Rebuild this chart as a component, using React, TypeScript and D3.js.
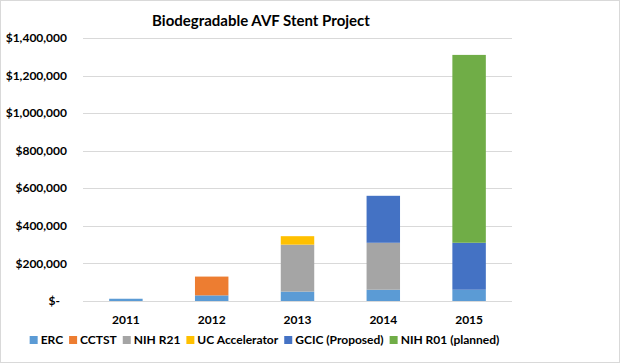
import React, { useEffect, useRef } from 'react';
import * as d3 from 'd3';

const years = ['2011', '2012', '2013', '2014', '2015'];
const seriesNames = ['ERC', 'CCTST', 'NIH R21', 'UC Accelerator', 'GCIC (Proposed)', 'NIH R01 (planned)'];
const seriesColors = ['#5B9BD5', '#ED7D31', '#A5A5A5', '#FFC000', '#4472C4', '#70AD47'];

const erc = [12000, 30000, 50000, 60000, 60000];
const cctst = [0, 100000, 0, 0, 0];
const nihR21 = [0, 0, 250000, 250000, 0];
const ucAccel = [0, 0, 45000, 0, 0];
const gcic = [0, 0, 0, 250000, 250000];
const nihR01 = [0, 0, 0, 0, 1000000];

const yTicks = [0, 200000, 400000, 600000, 800000, 1000000, 1200000, 1400000];

const App: React.FC = () => {
  const svgRef = useRef<SVGSVGElement>(null);

  useEffect(() => {
    document.body.style.margin = '0';
    if (!svgRef.current) return;

    const width = 620;
    const height = 363;
    const font = 'Lato, "Open Sans", sans-serif';

    const svg = d3.select(svgRef.current);
    svg.selectAll('*').remove();
    svg.style('font-family', font);

    svg.append('rect')
      .attr('x', 0.5).attr('y', 0.5)
      .attr('width', width - 1).attr('height', height - 1)
      .attr('fill', '#fff')
      .attr('stroke', '#d9d9d9');

    const plot = { left: 83, right: 512, top: 38, bottom: 301 };

    const x = d3.scaleBand<string>()
      .domain(years)
      .range([plot.left, plot.right])
      .paddingInner(0.61)
      .paddingOuter(0.305);

    const y = d3.scaleLinear()
      .domain([0, 1400000])
      .range([plot.bottom, plot.top]);

    // gridlines
    svg.append('g')
      .selectAll('line')
      .data(yTicks)
      .join('line')
      .attr('x1', plot.left)
      .attr('x2', plot.right)
      .attr('y1', d => Math.round(y(d)) + 0.5)
      .attr('y2', d => Math.round(y(d)) + 0.5)
      .attr('stroke', '#d9d9d9')
      .attr('stroke-width', 1);

    // stacked bars
    const table = years.map((yr, i) => ({
      year: yr,
      'ERC': erc[i],
      'CCTST': cctst[i],
      'NIH R21': nihR21[i],
      'UC Accelerator': ucAccel[i],
      'GCIC (Proposed)': gcic[i],
      'NIH R01 (planned)': nihR01[i]
    }));

    const stack = d3.stack<any>().keys(seriesNames)(table);

    svg.append('g')
      .selectAll('g')
      .data(stack)
      .join('g')
      .attr('fill', (_d, i) => seriesColors[i])
      .selectAll('rect')
      .data(d => d.filter(p => p[1] > p[0]))
      .join('rect')
      .attr('x', d => x(d.data.year) as number)
      .attr('width', x.bandwidth())
      .attr('y', d => y(d[1]))
      .attr('height', d => y(d[0]) - y(d[1]));

    // y labels
    const fmt = d3.format(',');
    svg.append('g')
      .selectAll('text')
      .data(yTicks)
      .join('text')
      .attr('x', d => (d === 0 ? 60 : 67))
      .attr('y', d => y(d))
      .attr('dy', '0.35em')
      .attr('text-anchor', 'end')
      .style('font-size', '12px')
      .style('font-weight', 700)
      .style('fill', '#000')
      .text(d => (d === 0 ? '$-' : '$' + fmt(d)));

    // x labels
    svg.append('g')
      .selectAll('text')
      .data(years)
      .join('text')
      .attr('x', d => (x(d) as number) + x.bandwidth() / 2)
      .attr('y', 320)
      .attr('dy', '0.35em')
      .attr('text-anchor', 'middle')
      .style('font-size', '12px')
      .style('font-weight', 700)
      .style('fill', '#000')
      .text(d => d);

    // title
    svg.append('text')
      .attr('x', 261)
      .attr('y', 21)
      .attr('dy', '0.35em')
      .attr('text-anchor', 'middle')
      .style('font-size', '15px')
      .style('font-weight', 700)
      .style('fill', '#000')
      .text('Biodegradable AVF Stent Project');

    // legend, laid out in sequence and centred
    const legend = svg.append('g').attr('transform', 'translate(0,340)');
    const items = legend.selectAll('g')
      .data(seriesNames)
      .join('g');

    items.append('rect')
      .attr('x', 0)
      .attr('y', -4)
      .attr('width', 8)
      .attr('height', 8)
      .attr('fill', (_d, i) => seriesColors[i]);

    items.append('text')
      .attr('x', 11)
      .attr('y', 0)
      .attr('dy', '0.35em')
      .style('font-size', '12px')
      .style('font-weight', 700)
      .style('fill', '#000')
      .text(d => d);

    const widths: number[] = [];
    items.select('text').each(function () {
      widths.push((this as SVGTextElement).getComputedTextLength() + 11);
    });
    const gap = 6;
    const total = d3.sum(widths) + gap * (widths.length - 1);
    let cx = 264.5 - total / 2;
    items.attr('transform', (_d, i) => {
      const t = `translate(${cx},0)`;
      cx += widths[i] + gap;
      return t;
    });
  }, []);

  return (
    <svg
      ref={svgRef}
      width={620}
      height={363}
      style={{ display: 'block', background: '#ffffff' }}
    />
  );
};

export default App;
